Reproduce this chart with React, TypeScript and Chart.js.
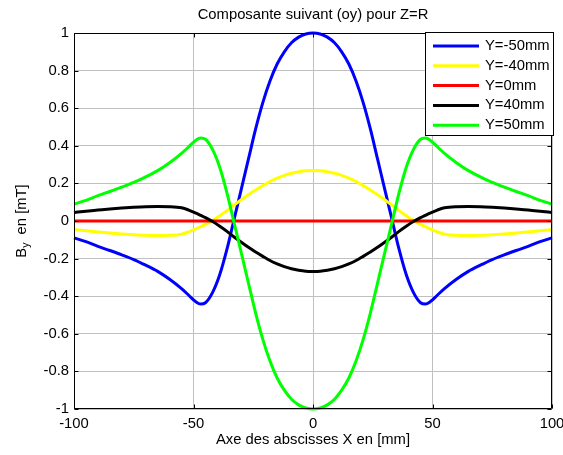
import React, { useEffect, useRef } from "react";
import { Chart, registerables } from "chart.js";

Chart.register(...registerables);

// ---------- data ----------
const xValues = [
  -100, -95, -90, -85, -80, -75, -70, -65, -60, -55, -52, -49, -47, -45, -42, -39, -36, -33, -30, -27, -24, -21, -18, -15, -12, -9, -6, -3,
  0,
  3, 6, 9, 12, 15, 18, 21, 24, 27, 30, 33, 36, 39, 42, 45, 47, 49, 52, 55, 60, 65, 70, 75, 80, 85, 90, 95, 100,
];

const seriesLabels = ["Y=-50mm", "Y=-40mm", "Y=0mm", "Y=40mm", "Y=50mm"];

const byMinus50 = [
  -0.09, -0.11, -0.135, -0.157, -0.18, -0.205, -0.235, -0.268, -0.31, -0.36, -0.395, -0.43, -0.442, -0.435, -0.38, -0.285, -0.15, 0.01, 0.17, 0.33, 0.49, 0.63, 0.745, 0.835, 0.9, 0.948, 0.978, 0.995,
  1.0,
  0.995, 0.978, 0.948, 0.9, 0.835, 0.745, 0.63, 0.49, 0.33, 0.17, 0.01, -0.15, -0.285, -0.38, -0.435, -0.442, -0.43, -0.395, -0.36, -0.31, -0.268, -0.235, -0.205, -0.18, -0.157, -0.135, -0.11, -0.09,
];

const byMinus40 = [
  -0.045, -0.052, -0.058, -0.064, -0.069, -0.073, -0.076, -0.077, -0.076, -0.07, -0.058, -0.042, -0.03, -0.018, 0.003, 0.028, 0.055, 0.085, 0.113, 0.14, 0.165, 0.188, 0.21, 0.228, 0.243, 0.254, 0.262, 0.267,
  0.268,
  0.267, 0.262, 0.254, 0.243, 0.228, 0.21, 0.188, 0.165, 0.14, 0.113, 0.085, 0.055, 0.028, 0.003, -0.018, -0.03, -0.042, -0.058, -0.07, -0.076, -0.077, -0.076, -0.073, -0.069, -0.064, -0.058, -0.052, -0.045,
];

const byZero = [
  0, 0, 0, 0, 0, 0, 0, 0, 0, 0, 0, 0, 0, 0, 0, 0, 0, 0, 0, 0, 0, 0, 0, 0, 0, 0, 0, 0,
  0,
  0, 0, 0, 0, 0, 0, 0, 0, 0, 0, 0, 0, 0, 0, 0, 0, 0, 0, 0, 0, 0, 0, 0, 0, 0, 0, 0, 0,
];

const byPlus40 = [
  0.045, 0.052, 0.058, 0.064, 0.069, 0.073, 0.076, 0.077, 0.076, 0.07, 0.058, 0.042, 0.03, 0.018, -0.003, -0.028, -0.055, -0.085, -0.113, -0.14, -0.165, -0.188, -0.21, -0.228, -0.243, -0.254, -0.262, -0.267,
  -0.268,
  -0.267, -0.262, -0.254, -0.243, -0.228, -0.21, -0.188, -0.165, -0.14, -0.113, -0.085, -0.055, -0.028, -0.003, 0.018, 0.03, 0.042, 0.058, 0.07, 0.076, 0.077, 0.076, 0.073, 0.069, 0.064, 0.058, 0.052, 0.045,
];

const byPlus50 = [
  0.09, 0.11, 0.135, 0.157, 0.18, 0.205, 0.235, 0.268, 0.31, 0.36, 0.395, 0.43, 0.442, 0.435, 0.38, 0.285, 0.15, -0.01, -0.17, -0.33, -0.49, -0.63, -0.745, -0.835, -0.9, -0.948, -0.978, -0.995,
  -1.0,
  -0.995, -0.978, -0.948, -0.9, -0.835, -0.745, -0.63, -0.49, -0.33, -0.17, -0.01, 0.15, 0.285, 0.38, 0.435, 0.442, 0.43, 0.395, 0.36, 0.31, 0.268, 0.235, 0.205, 0.18, 0.157, 0.135, 0.11, 0.09,
];

const xTicks = [-100, -50, 0, 50, 100];
const yMin = -1;
const yMax = 1;
const yStep = 0.2;

const titleText = "Composante suivant (oy) pour Z=R";
const xAxisTitle = "Axe des abscisses X en [mm]";
const yAxisMain = "B";
const yAxisSub = "y";
const yAxisRest = "  en [mT]";

const FONT = '"Liberation Sans", Arial, sans-serif';
const FS = 14.8;

export default function App() {
  const ref = useRef<HTMLCanvasElement>(null);

  useEffect(() => {
    const canvas = ref.current;
    if (!canvas) return;
    const colors = ["#0000ff", "#ffff00", "#ff0000", "#000000", "#00ff00"];
    const series = [byMinus50, byMinus40, byZero, byPlus40, byPlus50];

    const decor: any = {
      id: "matlabDecor",
      afterDatasetsDraw(chart: any) {
        const { ctx, chartArea: a } = chart;
        ctx.save();
        ctx.strokeStyle = "#000";
        ctx.lineWidth = 1;
        const L = Math.round(a.left) + 0.5;
        const R = Math.round(a.right) - 0.5;
        const T = Math.round(a.top) + 0.5;
        const B = Math.round(a.bottom) - 0.5;
        ctx.beginPath();
        ctx.rect(L, T, R - L, B - T);
        ctx.stroke();
        // inner tick marks
        const tl = 4;
        ctx.beginPath();
        xTicks.forEach((v) => {
          const px = Math.round(chart.scales.x.getPixelForValue(v)) + 0.5;
          ctx.moveTo(px, B);
          ctx.lineTo(px, B - tl);
          ctx.moveTo(px, T);
          ctx.lineTo(px, T + tl);
        });
        chart.scales.y.ticks.forEach((t: any) => {
          const py = Math.round(chart.scales.y.getPixelForValue(t.value)) + 0.5;
          ctx.moveTo(L, py);
          ctx.lineTo(L + tl, py);
          ctx.moveTo(R, py);
          ctx.lineTo(R - tl, py);
        });
        ctx.stroke();
        ctx.restore();
      },
      afterDraw(chart: any) {
        const { ctx, chartArea: a } = chart;
        ctx.save();
        ctx.fillStyle = "#000";
        ctx.font = `${FS}px ${FONT}`;
        ctx.textAlign = "center";
        ctx.textBaseline = "middle";
        const cx = (a.left + a.right) / 2;
        ctx.fillText(titleText, cx, 15);
        ctx.fillText(xAxisTitle, cx, 440);

        // y axis title with subscript
        const subFont = `${FS * 0.7}px ${FONT}`;
        const mainFont = `${FS}px ${FONT}`;
        ctx.font = mainFont;
        const wB = ctx.measureText(yAxisMain).width;
        const wRest = ctx.measureText(yAxisRest).width;
        ctx.font = subFont;
        const wSub = ctx.measureText(yAxisSub).width;
        const total = wB + wSub + wRest;
        ctx.translate(22, (a.top + a.bottom) / 2);
        ctx.rotate(-Math.PI / 2);
        ctx.textAlign = "left";
        let x0 = -total / 2;
        ctx.font = mainFont;
        ctx.fillText(yAxisMain, x0, 0);
        x0 += wB;
        ctx.font = subFont;
        ctx.fillText(yAxisSub, x0, 4);
        x0 += wSub;
        ctx.font = mainFont;
        ctx.fillText(yAxisRest, x0, 0);
        ctx.restore();

        // legend
        ctx.save();
        const lx = 425, ly = 32, lw = 129, lh = 104;
        ctx.fillStyle = "#fff";
        ctx.fillRect(lx, ly, lw, lh);
        ctx.strokeStyle = "#000";
        ctx.lineWidth = 1;
        ctx.strokeRect(lx + 0.5, ly + 0.5, lw - 1, lh - 1);
        ctx.font = `${FS}px ${FONT}`;
        ctx.textAlign = "left";
        ctx.textBaseline = "middle";
        chart.data.datasets.forEach((ds: any, i: number) => {
          const y = 46 + i * 19.8;
          ctx.strokeStyle = ds.borderColor;
          ctx.lineWidth = 3;
          ctx.beginPath();
          ctx.moveTo(433, y);
          ctx.lineTo(479, y);
          ctx.stroke();
          ctx.fillStyle = "#000";
          ctx.fillText(ds.label, 485, y);
        });
        ctx.restore();
      },
    };

    const chart = new Chart(canvas, {
      type: "line",
      data: {
        datasets: series.map((vals, i) => ({
          label: seriesLabels[i],
          data: xValues.map((x, j) => ({ x, y: vals[j] })),
          borderColor: colors[i],
          backgroundColor: colors[i],
          borderWidth: 3,
          pointRadius: 0,
          fill: false,
          cubicInterpolationMode: "monotone" as const,
          order: series.length - i,
          clip: 4,
        })),
      },
      options: {
        responsive: false,
        animation: false,
        events: [],
        layout: { padding: { left: 0, right: 11, top: 33, bottom: 0 } },
        plugins: {
          legend: { display: false },
          title: { display: false },
          tooltip: { enabled: false },
        },
        scales: {
          x: {
            type: "linear",
            min: -100,
            max: 100,
            afterBuildTicks: (s: any) => {
              s.ticks = xTicks.map((v) => ({ value: v }));
            },
            grid: { color: "#c0c0c0", drawTicks: false },
            border: { display: false },
            ticks: {
              padding: 6,
              color: "#000",
              font: { family: FONT, size: FS },
              maxRotation: 0,
              autoSkip: false,
              callback: (v: any) => String(v),
            },
            afterFit: (s: any) => {
              s.height = 46;
              s.paddingLeft = 0;
              s.paddingRight = 0;
            },
          },
          y: {
            type: "linear",
            min: yMin,
            max: yMax,
            grid: { color: "#c0c0c0", drawTicks: false },
            border: { display: false },
            ticks: {
              stepSize: yStep,
              padding: 5,
              color: "#000",
              font: { family: FONT, size: FS },
              callback: (v: any) => String(Number(Number(v).toFixed(1))),
            },
            afterFit: (s: any) => {
              s.width = 74;
              s.paddingTop = 0;
              s.paddingBottom = 0;
            },
          },
        },
      },
      plugins: [decor],
    } as any);

    return () => chart.destroy();
  }, []);

  return (
    <canvas
      ref={ref}
      width={563}
      height={455}
      style={{ position: "fixed", left: 0, top: 0, width: 563, height: 455, display: "block" }}
    />
  );
}
